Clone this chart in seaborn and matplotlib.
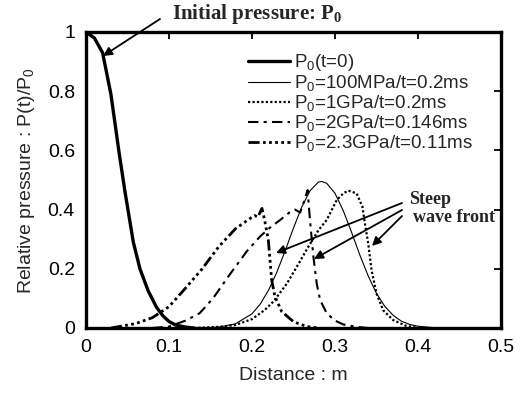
import matplotlib
matplotlib.use("Agg")
import matplotlib.pyplot as plt
import seaborn as sns
import pandas as pd

# ---- data ----
x_init = [0, 0.01, 0.02, 0.03, 0.035, 0.04, 0.047, 0.057, 0.065, 0.075, 0.085, 0.093, 0.10, 0.108, 0.12, 0.13]
y_init = [1.0, 0.98, 0.93, 0.79, 0.69, 0.59, 0.46, 0.29, 0.20, 0.125, 0.07, 0.04, 0.022, 0.01, 0.003, 0.0]

x_100m = [0.14, 0.16, 0.18, 0.20, 0.21, 0.22, 0.23, 0.24, 0.25, 0.26, 0.27, 0.28, 0.284, 0.29, 0.30,
          0.31, 0.32, 0.33, 0.34, 0.35, 0.36, 0.37, 0.38, 0.39, 0.40, 0.42]
y_100m = [0.0, 0.003, 0.014, 0.048, 0.081, 0.128, 0.189, 0.261, 0.338, 0.409, 0.464, 0.493, 0.495, 0.489, 0.455,
          0.396, 0.323, 0.246, 0.176, 0.117, 0.073, 0.043, 0.023, 0.012, 0.006, 0.001]

x_1g = [0.13, 0.16, 0.18, 0.20, 0.215, 0.226, 0.242, 0.254, 0.268, 0.28, 0.29, 0.302, 0.31, 0.316, 0.326,
        0.333, 0.336, 0.34, 0.344, 0.35, 0.358, 0.37, 0.385, 0.40]
y_1g = [0.0, 0.004, 0.01, 0.03, 0.06, 0.09, 0.15, 0.207, 0.275, 0.33, 0.365, 0.432, 0.455, 0.464, 0.455,
        0.41, 0.354, 0.286, 0.196, 0.117, 0.06, 0.027, 0.008, 0.0]

x_2g = [0.08, 0.10, 0.12, 0.137, 0.153, 0.173, 0.194, 0.21, 0.222, 0.234, 0.245, 0.252, 0.258, 0.263, 0.267,
        0.270, 0.274, 0.278, 0.282, 0.29, 0.30, 0.31, 0.325, 0.34]
y_2g = [0.0, 0.005, 0.025, 0.05, 0.10, 0.18, 0.26, 0.31, 0.34, 0.365, 0.39, 0.40, 0.39, 0.43, 0.466,
        0.36, 0.24, 0.15, 0.095, 0.05, 0.025, 0.012, 0.004, 0.0]

x_23g = [0.03, 0.06, 0.08, 0.10, 0.12, 0.14, 0.16, 0.18, 0.195, 0.203, 0.207, 0.212, 0.2155, 0.2197, 0.2217,
         0.2237, 0.2277, 0.2357, 0.25, 0.266, 0.28]
y_23g = [0.0, 0.015, 0.035, 0.072, 0.135, 0.20, 0.275, 0.335, 0.365, 0.38, 0.375, 0.404, 0.36, 0.297, 0.23,
         0.162, 0.106, 0.056, 0.021, 0.005, 0.0]

labels = ["P$_0$(t=0)",
          "P$_0$=100MPa/t=0.2ms",
          "P$_0$=1GPa/t=0.2ms",
          "P$_0$=2GPa/t=0.146ms",
          "P$_0$=2.3GPa/t=0.11ms"]
x_ticks = [0, 0.1, 0.2, 0.3, 0.4, 0.5]
x_ticklabels = ["0", "0.1", "0.2", "0.3", "0.4", "0.5"]
y_ticks = [0, 0.2, 0.4, 0.6, 0.8, 1.0]
y_ticklabels = ["0", "0.2", "0.4", "0.6", "0.8", "1"]

sns.set_style("white")
plt.rcParams["font.family"] = ["Liberation Sans", "DejaVu Sans"]
plt.rcParams["mathtext.default"] = "regular"

fig = plt.figure(figsize=(5.32, 3.98), dpi=100)
ax = fig.add_axes([86/532, 70/398, 415/532, 296/398])

series = [
    (x_init, y_init, dict(lw=2.4, linestyle="-")),
    (x_100m, y_100m, dict(lw=0.8, linestyle="-")),
    (x_1g, y_1g, dict(lw=1.6, linestyle=(0, (1, 1)))),
    (x_2g, y_2g, dict(lw=1.5, linestyle=(0, (5, 2.5, 1.5, 2.5)))),
    (x_23g, y_23g, dict(lw=2.0, linestyle=(0, (4, 1.2, 1, 1.2, 1, 1.2, 1, 1.2, 1, 1.2)))),
]
for (xs, ys, st), lab in zip(series, labels):
    df = pd.DataFrame({"x": xs, "y": ys})
    sns.lineplot(data=df, x="x", y="y", ax=ax, color="black", label=lab,
                 estimator=None, sort=False, **st)

ax.set_xlim(0, 0.5)
ax.set_ylim(0, 1)
ax.set_xticks(x_ticks)
ax.set_xticklabels(x_ticklabels)
ax.set_yticks(y_ticks)
ax.set_yticklabels(y_ticklabels)
ax.tick_params(direction="in", length=5, width=1.3, top=True, right=True,
               labelsize=14, pad=8, colors="black")
for sp in ax.spines.values():
    sp.set_linewidth(2.4)
    sp.set_color("black")

ax.set_xlabel("Distance : m", fontsize=14, labelpad=8)
ax.set_ylabel("Relative pressure : P(t)/P$_0$", fontsize=14, labelpad=8)

leg = ax.legend(loc="upper left", bbox_to_anchor=(0.39, 0.932), frameon=False,
                fontsize=13.5, handlelength=2.25, handletextpad=0.2,
                labelspacing=0.0, borderaxespad=0, borderpad=0)

def px(xp, yp):
    return ((xp - 86) / 830.0, (328 - yp) / 296.0)

serif_big = dict(family=["Liberation Serif", "DejaVu Serif"], weight="bold", size=15)
serif = dict(family=["Liberation Serif", "DejaVu Serif"], weight="bold", size=13)
arrow = dict(arrowstyle="-|>", color="black", lw=1.3, mutation_scale=13, shrinkA=0, shrinkB=0)

ax.annotate("", xy=px(103, 56), xytext=px(160, 19), arrowprops=arrow, annotation_clip=False)
ax.text(*px(172, 14), "Initial pressure: P$_0$", va="center", ha="left",
        fontdict=serif_big, clip_on=False)

tail = [(402, 203), (402, 210), (402, 216)]
heads = [(276, 253), (314, 259), (372, 246)]
for t, h in zip(tail, heads):
    ax.annotate("", xy=px(*h), xytext=px(*t), arrowprops=arrow)
ax.text(*px(409, 199), "Steep", va="center", ha="left", fontdict=serif)
ax.text(*px(413, 218), "wave front", va="center", ha="left", fontdict=serif)

fig.savefig("out.png", dpi=100)
